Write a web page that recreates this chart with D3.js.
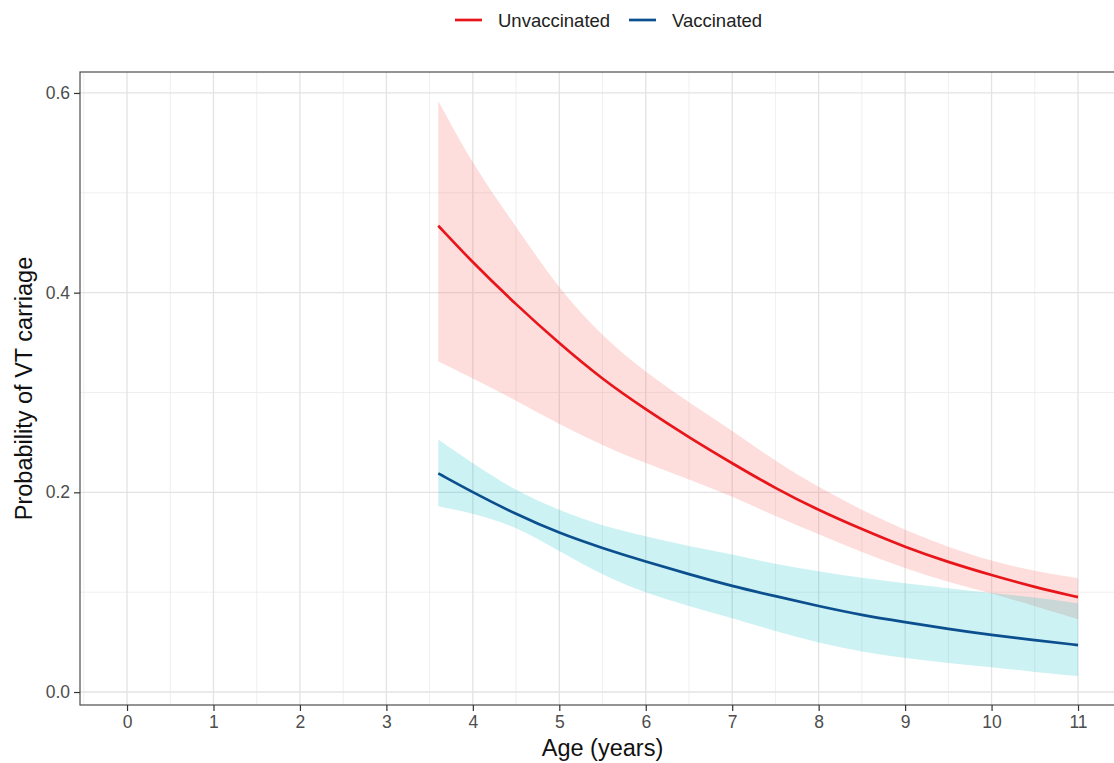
<!DOCTYPE html>
<html lang="en">
<head>
<meta charset="UTF-8">
<title>VT carriage</title>
<script src="https://cdn.jsdelivr.net/npm/d3@7"></script>
<style>
  body { margin: 0; background: #fff; }
  text { font-family: "Liberation Sans", Arial, sans-serif; }
</style>
</head>
<body>
<svg width="1114" height="763"></svg>
<script>
    // values
    const ages = [3.6, 4, 4.5, 5, 5.5, 6, 6.5, 7, 7.5, 8, 8.5, 9, 9.5, 10, 10.5, 11]
    const unvacFit = [0.467, 0.430, 0.388, 0.349, 0.313, 0.283, 0.255, 0.229, 0.204, 0.182, 0.163, 0.145, 0.130, 0.117, 0.105, 0.095]
    const unvacHi  = [0.592, 0.528, 0.466, 0.403, 0.356, 0.320, 0.290, 0.262, 0.231, 0.205, 0.182, 0.162, 0.145, 0.131, 0.121, 0.114]
    const unvacLo  = [0.331, 0.314, 0.292, 0.268, 0.247, 0.229, 0.213, 0.196, 0.176, 0.158, 0.140, 0.124, 0.110, 0.099, 0.086, 0.073]
    const vacFit = [0.219, 0.200, 0.178, 0.159, 0.144, 0.1305, 0.118, 0.106, 0.096, 0.086, 0.077, 0.070, 0.063, 0.057, 0.052, 0.047]
    const vacHi  = [0.253, 0.229, 0.201, 0.182, 0.166, 0.156, 0.146, 0.138, 0.128, 0.121, 0.114, 0.109, 0.104, 0.099, 0.095, 0.089]
    const vacLo  = [0.186, 0.179, 0.166, 0.141, 0.117, 0.099, 0.086, 0.074, 0.061, 0.049, 0.040, 0.034, 0.029, 0.025, 0.020, 0.016]
    const xTicks = d3.range(0, 12)
    const yTicks = [0, 0.2, 0.4, 0.6]

    const series = [
        {name: "Unvaccinated", fit: unvacFit, hi: unvacHi, lo: unvacLo, line: "#e8161b", fill: "#F8766D", op: 0.24},
        {name: "Vaccinated", fit: vacFit, hi: vacHi, lo: vacLo, line: "#0b4f8f", fill: "#00BFC4", op: 0.2}
    ]

    const svg = d3.select("svg")
    const pLeft = 80, pRight = 1126, pTop = 72, pBottom = 705

    const x = d3.scaleLinear().domain([-0.544, 11.555]).range([pLeft, pRight])
    const y = d3.scaleLinear().domain([-0.013, 0.621]).range([pBottom, pTop])

    // grid
    const grid = svg.append("g")
    const minorX = d3.range(-0.5, 11.6, 1)
    const minorY = [0.1, 0.3, 0.5]
    grid.selectAll(".mx").data(minorX).join("line")
        .attr("x1", d => x(d)).attr("x2", d => x(d)).attr("y1", pTop).attr("y2", pBottom)
        .attr("stroke", "#ebebeb").attr("stroke-width", 0.8)
    grid.selectAll(".my").data(minorY).join("line")
        .attr("y1", d => y(d)).attr("y2", d => y(d)).attr("x1", pLeft).attr("x2", pRight)
        .attr("stroke", "#ebebeb").attr("stroke-width", 0.8)
    grid.selectAll(".gx").data(xTicks).join("line")
        .attr("x1", d => x(d)).attr("x2", d => x(d)).attr("y1", pTop).attr("y2", pBottom)
        .attr("stroke", "#e3e3e3").attr("stroke-width", 1.3)
    grid.selectAll(".gy").data(yTicks).join("line")
        .attr("y1", d => y(d)).attr("y2", d => y(d)).attr("x1", pLeft).attr("x2", pRight)
        .attr("stroke", "#e3e3e3").attr("stroke-width", 1.3)

    // ribbons
    series.forEach(s => {
        const area = d3.area()
            .x((d, i) => x(ages[i]))
            .y0((d, i) => y(s.lo[i]))
            .y1((d, i) => y(s.hi[i]))
            .curve(d3.curveBasis)
        svg.append("path").datum(ages).attr("d", area)
            .attr("fill", s.fill).attr("fill-opacity", s.op)
    })
    series.forEach(s => {
        const line = d3.line()
            .x((d, i) => x(ages[i]))
            .y((d, i) => y(s.fit[i]))
            .curve(d3.curveBasis)
        svg.append("path").datum(ages).attr("d", line)
            .attr("fill", "none").attr("stroke", s.line).attr("stroke-width", 2.7)
    })

    // panel border
    svg.append("rect").attr("x", pLeft).attr("y", pTop)
        .attr("width", pRight - pLeft).attr("height", pBottom - pTop)
        .attr("fill", "none").attr("stroke", "#4d4d4d").attr("stroke-width", 1.2)

    // axes
    const xAxis = svg.append("g").attr("transform", `translate(0,${pBottom})`)
        .call(d3.axisBottom(x).tickValues(xTicks).tickSize(6).tickPadding(5))
    const yAxis = svg.append("g").attr("transform", `translate(${pLeft},0)`)
        .call(d3.axisLeft(y).tickValues(yTicks).tickFormat(d3.format(".1f")).tickSize(6).tickPadding(4))
    ;[xAxis, yAxis].forEach(a => {
        a.select(".domain").remove()
        a.selectAll(".tick line").attr("stroke", "#333").attr("stroke-width", 1.2)
        a.selectAll(".tick text").attr("fill", "#4d4d4d").style("font-size", "17.5px")
    })

    svg.append("text").attr("x", x(5.5)).attr("y", 756).attr("text-anchor", "middle")
        .style("font-size", "23.5px").attr("fill", "#111").text("Age (years)")
    svg.append("text").attr("transform", `translate(32,${(pTop + pBottom) / 2}) rotate(-90)`)
        .attr("text-anchor", "middle").style("font-size", "23.5px").attr("fill", "#111")
        .text("Probability of VT carriage")

    // legend
    const legend = svg.append("g")
    const legX = [455, 629]
    series.forEach((s, i) => {
        legend.append("line").attr("x1", legX[i]).attr("x2", legX[i] + 27)
            .attr("y1", 20).attr("y2", 20).attr("stroke", s.line).attr("stroke-width", 2.7)
        legend.append("text").attr("x", legX[i] + 43).attr("y", 27)
            .style("font-size", "18.5px").attr("fill", "#222").text(s.name)
    })
</script>
</body>
</html>
